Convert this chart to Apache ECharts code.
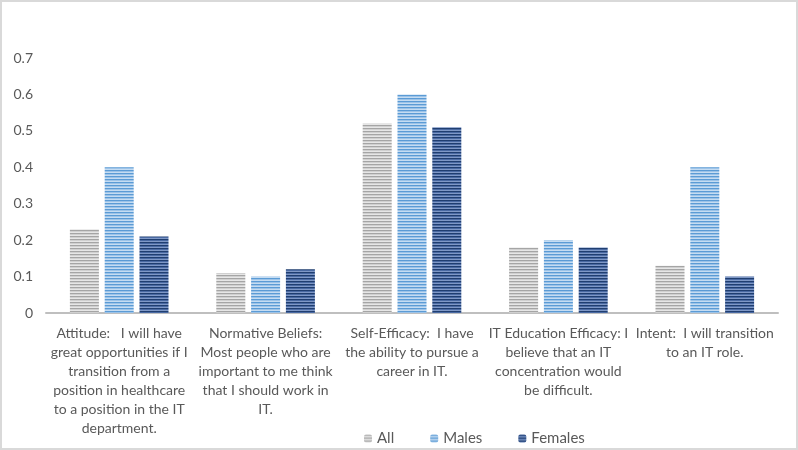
<!DOCTYPE html>
<html>
<head>
<meta charset="utf-8">
<script src="https://cdn.jsdelivr.net/npm/echarts@6/dist/echarts.min.js"></script>
<style>
html,body{margin:0;padding:0;background:#fff;}
#c{width:798px;height:450px;box-sizing:border-box;border:2px solid #d9d9d9;}
</style>
</head>
<body>
<div id="c"></div>
<script>
var categories = [
  "Attitude:   I will have\ngreat opportunities if I\ntransition from a\nposition in healthcare\nto a position in the IT\ndepartment.",
  "Normative Beliefs:\nMost people who are\nimportant to me think\nthat I should work in\nIT.",
  "Self-Efficacy:  I have\nthe ability to pursue a\ncareer in IT.",
  "IT Education Efficacy: I\nbelieve that an IT\nconcentration would\nbe difficult.",
  "Intent:  I will transition\nto an IT role."
];
var seriesNames = ["All", "Males", "Females"];
var allValues = [0.23, 0.11, 0.52, 0.18, 0.13];
var malesValues = [0.40, 0.10, 0.60, 0.20, 0.40];
var femalesValues = [0.21, 0.12, 0.51, 0.18, 0.10];

function stripe(c1, c2, c3) {
  var cv = document.createElement('canvas');
  cv.width = 4; cv.height = 3;
  var ctx = cv.getContext('2d');
  ctx.fillStyle = c1; ctx.fillRect(0, 0, 4, 1);
  ctx.fillStyle = c2; ctx.fillRect(0, 1, 4, 1);
  ctx.fillStyle = c3; ctx.fillRect(0, 2, 4, 1);
  return {image: cv, repeat: 'repeat'};
}
var patterns = [
  stripe('#a5a5a5', '#d0d0d0', '#e6e6e6'),
  stripe('#5b9bd5', '#9cc3e8', '#c5dcf2'),
  stripe('#203e70', '#4a6aa3', '#7f98c6')
];
var font = 'Lato, "Open Sans", sans-serif';

var chart = echarts.init(document.getElementById('c'), null, {renderer: 'canvas'});
var data = [allValues, malesValues, femalesValues];
chart.setOption({
  animation: false,
  backgroundColor: '#fff',
  grid: {left: 44, right: 18, top: 56, bottom: 135},
  legend: {
    left: 357, top: 424,
    itemWidth: 8, itemHeight: 8, itemGap: 36,
    textStyle: {color: '#595959', fontSize: 15, fontFamily: font},
    data: seriesNames
  },
  xAxis: {
    type: 'category',
    data: categories,
    axisLine: {lineStyle: {color: '#bfbfbf', width: 2}},
    axisTick: {show: false},
    axisLabel: {interval: 0, color: '#595959', fontSize: 14, fontFamily: font, lineHeight: 19, margin: 11}
  },
  yAxis: {
    type: 'value', min: 0, max: 0.7, interval: 0.1,
    splitLine: {show: false},
    axisLine: {show: false}, axisTick: {show: false},
    axisLabel: {color: '#595959', fontSize: 14, fontFamily: font, margin: 13}
  },
  series: seriesNames.map(function (n, i) {
    return {
      name: n, type: 'bar', data: data[i],
      barWidth: 29, barGap: '20%',
      itemStyle: {color: patterns[i]}
    };
  })
});
</script>
</body>
</html>
